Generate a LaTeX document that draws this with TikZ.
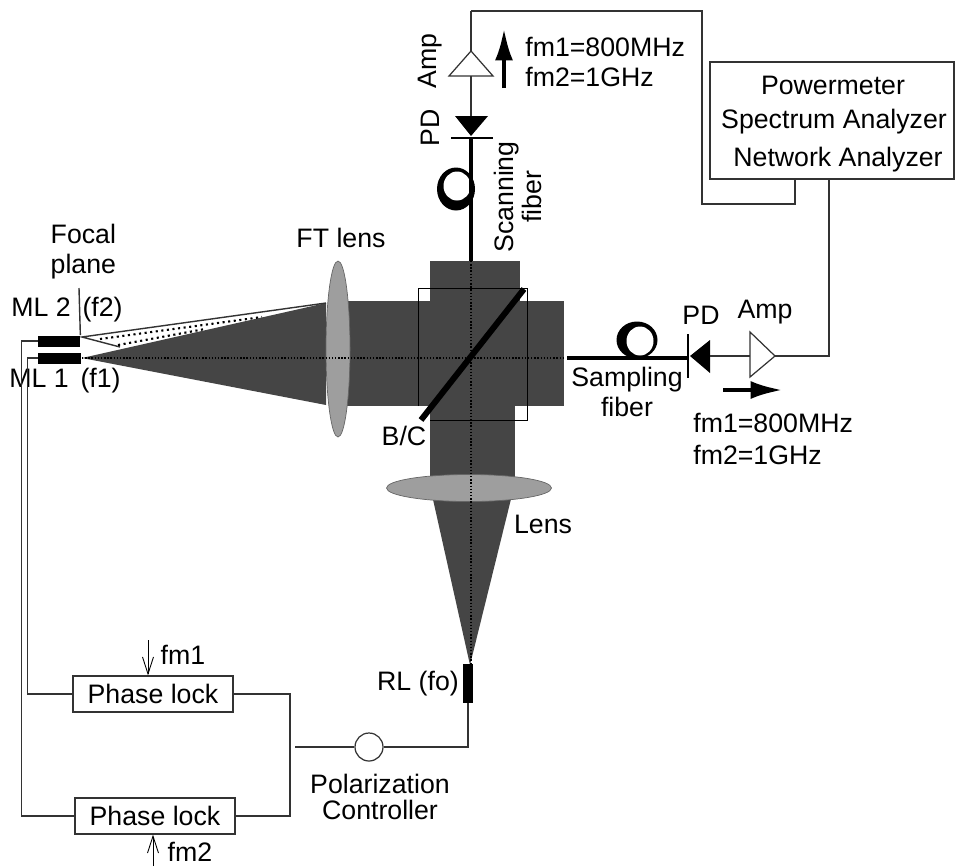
\documentclass[tikz,border=0pt]{standalone}
\usepackage{fontspec}
\setmainfont{Liberation Sans}
\usetikzlibrary{arrows.meta,positioning,calc,shapes.geometric}
\definecolor{beamgray}{gray}{0.27}
\definecolor{lensgray}{gray}{0.62}
\tikzset{lab/.style={font=\fontsize{15.2}{18}\selectfont,align=center,inner sep=0pt},
wire/.style={line width=.8pt,black!80},
fiber/.style={line width=2.4pt,black},
axis/.style={line width=.8pt,densely dotted,black},
instr/.style={draw=black!80,line width=.7pt,fill=white,inner sep=0pt},
lens/.style={ellipse,draw=black!60,line width=.4pt,fill=lensgray,inner sep=0pt},
solid block/.style={fill=black,inner sep=0pt},
bigarrow/.style={-{Latex[length=6.5mm,width=3.6mm]},line width=2.6pt},
thinarrow/.style={-{Straight Barb[length=3.4mm,width=2.2mm]},line width=.5pt}}
\begin{document}
\begin{tikzpicture}[x=.02cm,y=-.02cm]
\useasboundingbox (0,0) rectangle (955,866);
% beams
\fill[beamgray] (82,358)--(326,303)--(326,405)--cycle;
\fill[beamgray] (340,301) rectangle (564,406);
\fill[beamgray] (430,261) rectangle (520,406);
\fill[beamgray] (430,406) rectangle (515,490);
\fill[beamgray] (432,495)--(512,495)--(470,665)--cycle;
\draw[line width=.5pt] (418,406)--(418,288)-|(527,301) (515,420)-|(527,406) (430,420)--(515,420) (527,301)--(527,406);
\draw[wire] (326,303)--(82,337)--(120,347);
\draw[line width=1.2pt,dotted] (100,339)--(262,317) (118,345)--(205,329);
% lenses
\node[lens,minimum width=24*.02cm,minimum height=176*.02cm] (ftlens) at (338,349) {};
\node[lens,minimum width=165*.02cm,minimum height=27*.02cm] (lenstwo) at (469,488) {};
\draw[axis] (82,358)--(564,358);
\draw[axis] (471,261)--(471,664);
\draw[line width=3.4pt] (524,289)--(421,420);
% sources
\node[solid block,minimum width=42*.02cm,minimum height=11*.02cm] (mltwo) at (59,341) {};
\node[solid block,minimum width=43*.02cm,minimum height=11*.02cm] (mlone) at (59.5,358) {};
\node[solid block,minimum width=10*.02cm,minimum height=39*.02cm] (rl) at (468,683.5) {};
\coordinate (focaltop) at (79,288);
\draw[wire] (focaltop)--(mltwo.north east);
\node[lab,above=56*.02cm of mltwo.north east,xshift=3*.02cm] (focallab) {Focal\\[-1pt]plane};
\node[lab] (mltwolab) at (67,310) {ML 2 \,(f2)};
\node[lab] (mlonelab) at (65,381) {ML 1 \,(f1)};
\node[lab] (ftlab) at (341,238) {FT lens};
\node[lab] (bclab) at (404,436) {B/C};
\node[lab] (lenslab) at (543,524) {Lens};
\node[lab,left=2pt of rl] (rllab) {RL (fo)};
% phase locks
\node[instr,lab,draw=black!80,minimum width=160*.02cm,minimum height=36*.02cm] (lockone) at (153,694) {Phase lock};
\node[instr,lab,draw=black!80,minimum width=160*.02cm,minimum height=36*.02cm] (locktwo) at (155,816) {Phase lock};
\node[circle,draw=black!80,line width=.7pt,fill=white,minimum size=28*.02cm,inner sep=0pt] (pol) at (369,747) {};
\node[lab,below=12*.02cm of pol,xshift=11*.02cm] (pollab) {Polarization\\[-3pt]Controller};
\coordinate (poljoin) at (290,747);
\coordinate (polstart) at (295,747);
\draw[wire] (mlone.west)--++(-10,0)|-(lockone.west);
\draw[wire] (mltwo.west)--++(-16,0)|-(locktwo.west);
\draw[wire] (lockone.east)-|(poljoin)|-(locktwo.east);
\draw[wire] (polstart)--(pol.west);
\draw[wire] (pol.east)-|(rl.south);
\coordinate (fmonetail) at (148,640);
\coordinate (fmtwotail) at (153,866);
\draw[thinarrow] (fmonetail)--(fmonetail|-lockone.north);
\draw[thinarrow] (fmtwotail)--(fmtwotail|-locktwo.south);
\node[lab] (fmonelab) at (183,655) {fm1};
\node[lab] (fmtwolab) at (190,852) {fm2};
% scanning arm
\coordinate (scantop) at (471,11);
\coordinate (scantip) at (471,51);
\coordinate (scanbase) at (471,76);
\coordinate (scanpd) at (471,116);
\coordinate (scanbar) at (471,138);
\coordinate (scanfiber) at (471,261);
\draw[instr] (scantip)--(449,76)--(493,76)--cycle;
\fill (455,116)--(488,116)--(471,136)--cycle;
\draw[line width=.6pt] (451,138)--(493,138);
\draw[wire] (scantip)--(scantop);
\draw[wire] (scanbase)--(scanpd);
\node[ellipse,fill=black,minimum width=38*.02cm,minimum height=43*.02cm,inner sep=0pt] (scancoil) at (456,189) {};
\node[ellipse,fill=white,minimum width=27*.02cm,minimum height=29*.02cm,inner sep=0pt] (scanhole) at (457,186) {};
\draw[fiber] (scanbar)--(scanfiber);
\node[lab,rotate=90] (scanamplab) at (430,61) {Amp};
\node[lab,rotate=90] (scanpdlab) at (430,128) {PD};
\node[lab,rotate=90] (scanlab) at (507,197) {Scanning};
\node[lab,rotate=90] (scanfib) at (532,197) {fiber};
\coordinate (scanarrow) at (504,88);
\draw[bigarrow] (scanarrow)--++(0,-60);
\node[lab,anchor=west] (scanfmone) at (525,47) {fm1=800MHz};
\node[lab,anchor=west] (scanfmtwo) at (525,77) {fm2=1GHz};
% sampling arm
\coordinate (sampfiber) at (567,358);
\coordinate (sampbar) at (688,358);
\coordinate (samppd) at (710,356);
\coordinate (sampbase) at (750,356);
\coordinate (samptip) at (775,356);
\draw[instr] (samptip)--(750,332)--(750,377)--cycle;
\fill (690,356)--(710,340)--(710,373)--cycle;
\draw[line width=.6pt] (688,334)--(688,378);
\draw[wire] (samppd)--(sampbase);
\node[ellipse,fill=black,minimum width=41*.02cm,minimum height=37*.02cm,inner sep=0pt] (sampcoil) at (637,340) {};
\node[ellipse,fill=white,minimum width=27*.02cm,minimum height=29*.02cm,inner sep=0pt] (samphole) at (640,341) {};
\draw[fiber] (sampfiber)--(sampbar);
\node[lab] (samppdlab) at (701,315) {PD};
\node[lab] (sampamplab) at (765,312) {Amp};
\node[lab] (samplab) at (627,380) {Sampling};
\node[lab] (sampfib) at (627,407) {fiber};
\coordinate (samparrow) at (723,390);
\draw[bigarrow] (samparrow)--++(60,0);
\node[lab,anchor=west] (sampfmone) at (693,423) {fm1=800MHz};
\node[lab,anchor=west] (sampfmtwo) at (693,455) {fm2=1GHz};
% analyzer
\node[instr,minimum width=244*.02cm,minimum height=117*.02cm] (analyzer) at (832,120.5) {};
\node[lab] (powerlab) at (833,85) {Powermeter};
\node[lab] (spectlab) at (834,122) {Spectrum Analyzer};
\node[lab] (netlab) at (838,160) {Network Analyzer};
\coordinate (analyzerin) at (795,179);
\coordinate (analyzerout) at (829,179);
\draw[wire] (scantop)-|(702,204)-|(analyzerin);
\draw[wire] (samptip)-|(analyzerout);
\end{tikzpicture}
\end{document}
